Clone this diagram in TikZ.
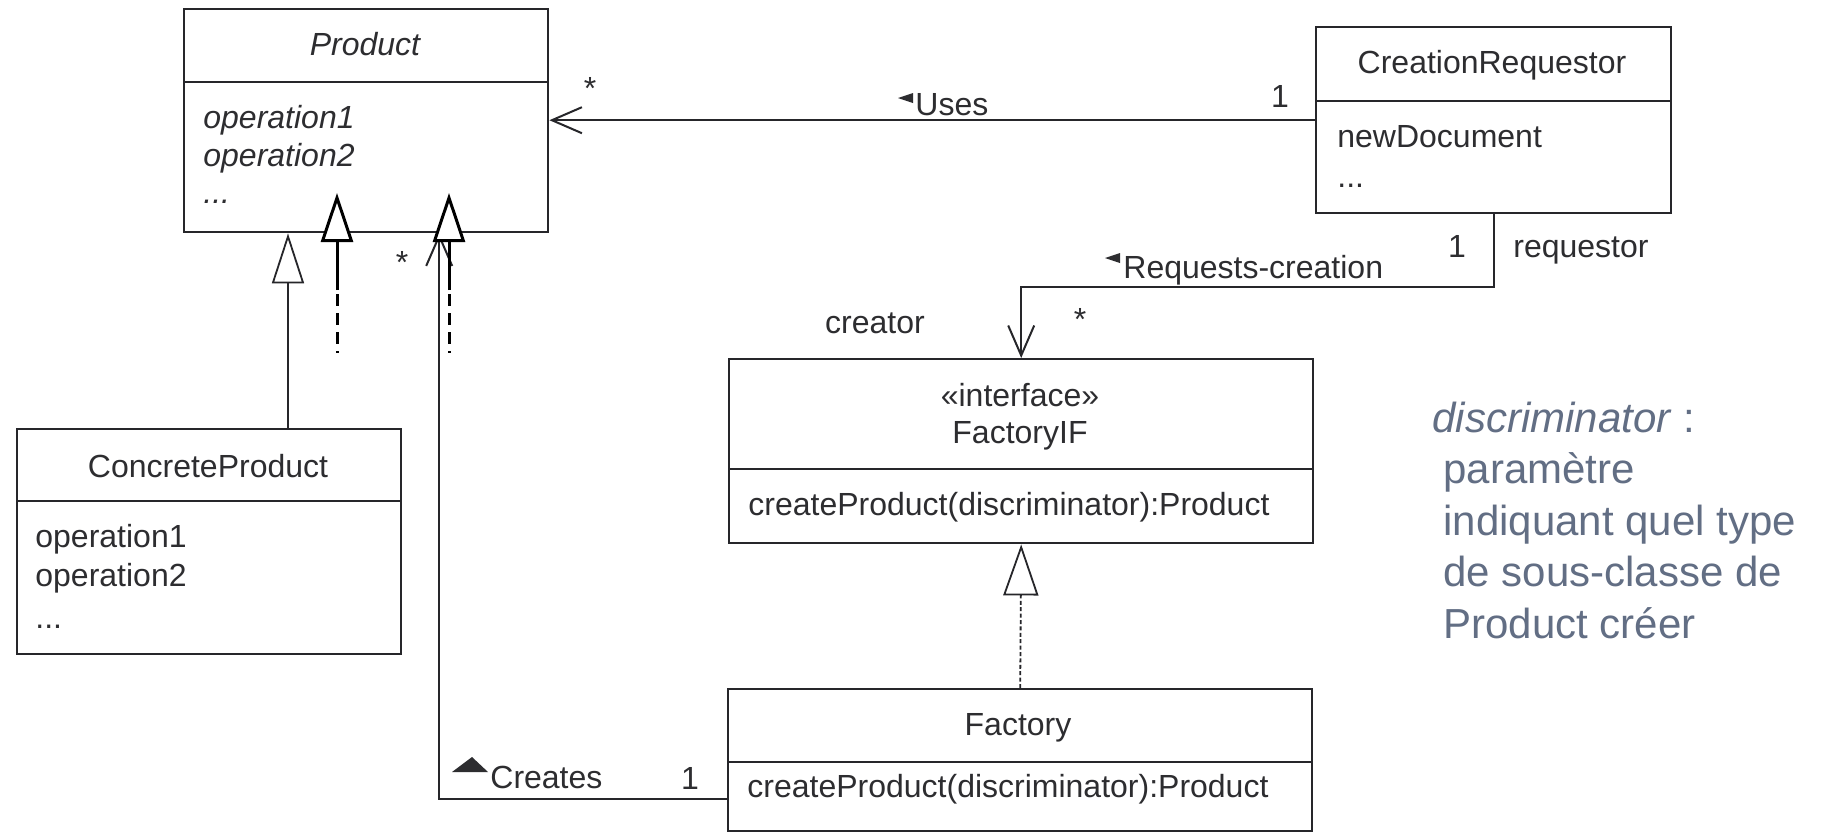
\documentclass[tikz,border=0pt]{standalone}
\usepackage{fontspec}
\setmainfont{Liberation Sans}
\usetikzlibrary{arrows.meta}
\definecolor{ink}{RGB}{38,38,42}
\definecolor{txt}{RGB}{45,45,48}
\definecolor{note}{RGB}{98,110,132}
\begin{document}
\begin{tikzpicture}[x=0.5pt, y=-0.5pt,
  box/.style={draw=ink, line width=1.2pt, anchor=north west, inner sep=0pt},
  divider/.style={draw=ink, line width=1.2pt},
  lbl/.style={inner sep=0pt, anchor=base, text=txt, font=\fontsize{16}{19}\selectfont},
  lbll/.style={lbl, anchor=base west},
  itl/.style={font=\fontsize{16}{19}\selectfont\itshape},
  notetext/.style={inner sep=0pt, anchor=base west, text=note, font=\fontsize{21}{25}\selectfont},
  assoc/.style={draw=ink, line width=1pt, -{Straight Barb[length=15pt, width=13pt]}},
  gen/.style={draw=ink, line width=0.9pt, -{Triangle[fill=white, length=25pt, width=16pt]}},
  real/.style={draw=ink, line width=0.9pt, dash pattern=on 2pt off 1.2pt, -{Triangle[fill=white, length=25.5pt, width=17.5pt]}},
  addline/.style={draw=black, line width=1.5pt},
  addarrow/.style={addline, -{Triangle[fill=white, length=24.5pt, width=16pt]}},
  tri/.style={fill=txt}
]
\useasboundingbox[fill=white] (0,0) rectangle (1822,832);

% ---------- Product
\node[box, minimum width=182pt, minimum height=111.5pt] (product) at (183,8) {};
\draw[divider] ([yshift=-37pt]product.north west) -- ([yshift=-37pt]product.north east);
\node[lbl, itl] (ptitle) at (365,55) {Product};
\node[lbll, itl] (pop1) at (203,128) {operation1};
\node[lbll, itl] (pop2) at (203,166) {operation2};
\node[lbll, itl] (pop3) at (203,203) {...};

% ---------- ConcreteProduct
\node[box, minimum width=192pt, minimum height=112.5pt] (concrete) at (16,428) {};
\draw[divider] ([yshift=-36.5pt]concrete.north west) -- ([yshift=-36.5pt]concrete.north east);
\node[lbl] (ctitle) at (208,477) {ConcreteProduct};
\node[lbll] (cop1) at (35,547) {operation1};
\node[lbll] (cop2) at (35,586) {operation2};
\node[lbll] (cop3) at (35,628) {...};

% ---------- CreationRequestor
\node[box, minimum width=177.5pt, minimum height=93pt] (creq) at (1315,26) {};
\draw[divider] ([yshift=-37.5pt]creq.north west) -- ([yshift=-37.5pt]creq.north east);
\node[lbl] (rtitle) at (1492,73) {CreationRequestor};
\node[lbll] (rop1) at (1337,147) {newDocument};
\node[lbll] (rop2) at (1337,187) {...};

% ---------- FactoryIF
\node[box, minimum width=292pt, minimum height=92pt] (fif) at (728,358) {};
\draw[divider] ([yshift=-55.5pt]fif.north west) -- ([yshift=-55.5pt]fif.north east);
\node[lbl] (fster) at (1020,406) {«interface»};
\node[lbl] (ftitle) at (1020,443) {FactoryIF};
\node[lbll] (fop) at (748,515) {createProduct(discriminator):Product};

% ---------- Factory
\node[box, minimum width=292pt, minimum height=71pt] (factory) at (727,688) {};
\draw[divider] ([yshift=-37pt]factory.north west) -- ([yshift=-37pt]factory.north east);
\node[lbl] (ktitle) at (1018,735) {Factory};
\node[lbll] (kop) at (747,797) {createProduct(discriminator):Product};

% ---------- connectors
\coordinate (g) at (288,0);
\draw[gen] (concrete.north -| g) -- (product.south -| g);
\draw[real] (factory.north) -- (fif.south);
\draw[assoc] (creq.west) -- (creq.west -| product.east);
\draw[assoc] (creq.south) -- ++(0,73) -| (fif.north);
\draw[assoc] ([yshift=-19.5pt]factory.west) -| ([xshift=36.5pt]product.south);

% ---------- association labels
\fill[tri] (898,98) -- (913,93) -- (913,103) -- cycle;
\node[lbll] (uses) at (915,115) {Uses};
\node[lbl] (uses1) at (1280,107) {1};
\node[lbl] (usesstar) at (590,99) {*};

\fill[tri] (1105,258) -- (1120,253) -- (1120,263) -- cycle;
\node[lbll] (reqc) at (1123,278) {Requests-creation};
\node[lbl] (req1) at (1457,257) {1};
\node[lbll] (reqr) at (1513,257) {requestor};
\node[lbl] (reqstar) at (1080,330) {*};
\node[lbl] (creator) at (875,333) {creator};

\fill[tri] (452,772) -- (472,757) -- (488,772) -- cycle;
\node[lbll] (creates) at (490,788) {Creates};
\node[lbl] (cre1) at (690,789) {1};
\node[lbl] (crestar) at (402,273) {*};

% ---------- added black arrows
\coordinate (a1b) at (337,353); \coordinate (a1m) at (337,294); \coordinate (a1s) at (337,290); \coordinate (a1t) at (337,193);
\coordinate (a2b) at (449,353); \coordinate (a2m) at (449,294); \coordinate (a2s) at (449,290); \coordinate (a2t) at (449,193);
\draw[addline, dash pattern=on 6pt off 3.5pt] (a1m) -- (a1b);
\draw[addline, dash pattern=on 6pt off 3.5pt] (a2m) -- (a2b);
\draw[addarrow] (a1s) -- (a1t);
\draw[addarrow] (a2s) -- (a2t);

% ---------- note
\node[notetext] (n1) at (1432,432) {\textit{discriminator} :};
\node[notetext] (n2) at (1443,483.5) {paramètre};
\node[notetext] (n3) at (1443,535) {indiquant quel type};
\node[notetext] (n4) at (1443,586.5) {de sous-classe de};
\node[notetext] (n5) at (1443,638) {Product créer};
\end{tikzpicture}
\end{document}
